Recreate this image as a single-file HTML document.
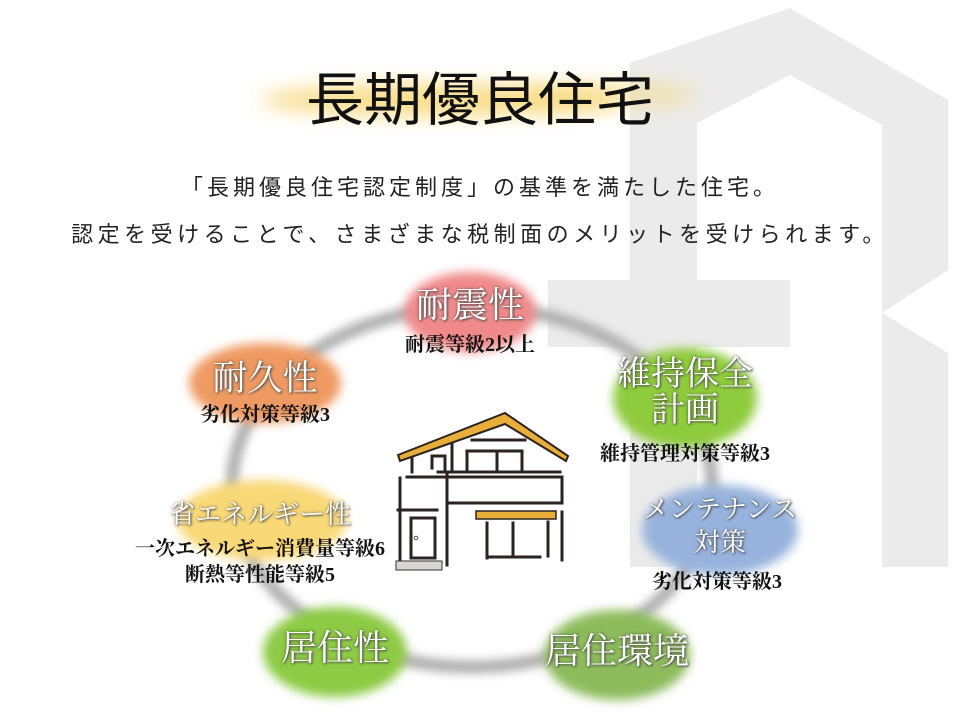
<!DOCTYPE html>
<html><head><meta charset="utf-8">
<style>
html,body{margin:0;padding:0;background:#fff;}
#c{position:relative;width:960px;height:720px;overflow:hidden;background:#fff;}
svg{position:absolute;left:0;top:0;}
.t{position:absolute;white-space:nowrap;text-align:center;}
.title{font-family:"Liberation Sans","Noto Sans CJK JP",sans-serif;font-size:58px;color:#111;left:0;width:960px;top:53px;}
.sub{font-family:"Liberation Sans","Noto Sans CJK JP",sans-serif;font-size:22px;color:#222;left:0;width:960px;}
.lab{font-family:"Liberation Serif","Noto Serif CJK JP",serif;color:#fff;text-shadow:1px 1px 2px #555,0 0 3px rgba(0,0,0,.5);line-height:1.05;}
.sm{font-family:"Liberation Serif","Noto Serif CJK JP",serif;color:#111;font-weight:bold;font-size:20px;line-height:1.3;}
</style></head><body><div id="c">
<svg width="960" height="720" viewBox="0 0 960 720">
<defs>
<filter id="b" x="-30%" y="-30%" width="160%" height="160%"><feGaussianBlur stdDeviation="4.5"/></filter>
<filter id="b2" x="-30%" y="-30%" width="160%" height="160%"><feGaussianBlur stdDeviation="5"/></filter>
<filter id="b3" x="-30%" y="-100%" width="160%" height="300%"><feGaussianBlur stdDeviation="10"/></filter>
</defs>
<g fill="#ebebeb">
<polygon points="630,63 790,8 948,100 948,567 882,567 882,125 790,75 697,123 697,567 630,567"/>
<rect x="548" y="280" width="242" height="67"/>
</g>
<polygon points="882,313 948,270 948,353" fill="#fff"/>
<ellipse cx="440" cy="100" rx="180" ry="16" fill="#f7d46a" opacity="0.8" filter="url(#b3)"/>
<ellipse cx="610" cy="95" rx="90" ry="12" fill="#f7d46a" opacity="0.5" filter="url(#b3)"/>
<ellipse cx="472" cy="487" rx="240" ry="180" fill="none" stroke="#b0b0b0" stroke-width="13" filter="url(#b)"/>
<g filter="url(#b2)">
<ellipse cx="470" cy="312" rx="66" ry="40" fill="#f08a8a"/>
<ellipse cx="265" cy="383" rx="76" ry="40" fill="#ef9a62"/>
<ellipse cx="685" cy="398" rx="72" ry="50" fill="#8fcc3e"/>
<ellipse cx="262" cy="520" rx="85" ry="40" fill="#f9d877"/>
<ellipse cx="720" cy="530" rx="78" ry="45" fill="#97b3dd"/>
<ellipse cx="335" cy="652" rx="72" ry="45" fill="#8dcb45"/>
<ellipse cx="617" cy="655" rx="73" ry="45" fill="#8dbb5b"/>
</g>
<g stroke="#2a2320" stroke-width="3" fill="none" stroke-linecap="square">
<polygon points="398,455 505,413 568,456 566,461 505,424 400,461" fill="#e9ad3a" stroke-width="2"/>
<line x1="412" y1="458" x2="412" y2="472"/>
<line x1="452" y1="444" x2="452" y2="472"/>
<polyline points="432,456 432,468"/><polyline points="432,456 445,456 445,470"/>
<line x1="472" y1="440" x2="525" y2="440"/>
<rect x="467" y="451" width="55" height="21"/>
<line x1="497" y1="451" x2="497" y2="472"/>
<line x1="438" y1="472" x2="560" y2="472"/>
<line x1="407" y1="477" x2="562" y2="477"/>
<line x1="562" y1="477" x2="562" y2="503"/>
<line x1="450" y1="503" x2="562" y2="503"/>
<line x1="400" y1="478" x2="400" y2="560"/>
<line x1="398" y1="510" x2="437" y2="510"/>
<line x1="447" y1="475" x2="447" y2="565"/>
<rect x="411" y="518" width="24" height="40"/>
<line x1="487" y1="523" x2="487" y2="558"/>
<line x1="513" y1="523" x2="513" y2="556"/>
<line x1="548" y1="522" x2="548" y2="556"/>
<line x1="488" y1="557" x2="540" y2="557"/>
<line x1="562" y1="512" x2="562" y2="560"/>
</g>
<rect x="476" y="511" width="80" height="8" fill="#e9ad3a" stroke="#2a2320" stroke-width="1.5"/>
<circle cx="416" cy="538" r="1.8" fill="none" stroke="#555" stroke-width="1"/>
<rect x="396" y="561" width="46" height="9" fill="#d8d6d0" stroke="#333" stroke-width="1"/>
</svg>

<div class="t title">長期優良住宅</div>
<div class="t sub" style="top:170px;letter-spacing:4px;">「長期優良住宅認定制度」の基準を満たした住宅。</div>
<div class="t sub" style="top:217px;letter-spacing:4.5px;">認定を受けることで、さまざまな税制面のメリットを受けられます。</div>

<div class="t lab" style="left:370px;width:200px;top:287px;font-size:36px;">耐震性</div>
<div class="t sm" style="left:370px;width:200px;top:332px;">耐震等級2以上</div>

<div class="t lab" style="left:165px;width:200px;top:361px;font-size:35px;">耐久性</div>
<div class="t sm" style="left:165px;width:200px;top:402px;">劣化対策等級3</div>

<div class="t lab" style="left:585px;width:200px;top:357px;font-size:34px;">維持保全<br>計画</div>
<div class="t sm" style="left:535px;width:300px;top:441px;">維持管理対策等級3</div>

<div class="t lab" style="left:155px;width:210px;top:501px;font-size:26px;">省エネルギー性</div>
<div class="t sm" style="left:80px;width:360px;top:536px;">一次エネルギー消費量等級6<br>断熱等性能等級5</div>

<div class="t lab" style="left:620px;width:200px;top:494px;font-size:26px;line-height:1.25;">メンテナンス<br>対策</div>
<div class="t sm" style="left:617px;width:200px;top:569px;">劣化対策等級3</div>

<div class="t lab" style="left:235px;width:200px;top:630px;font-size:36px;">居住性</div>
<div class="t lab" style="left:517px;width:200px;top:633px;font-size:36px;">居住環境</div>
</div></body></html>
